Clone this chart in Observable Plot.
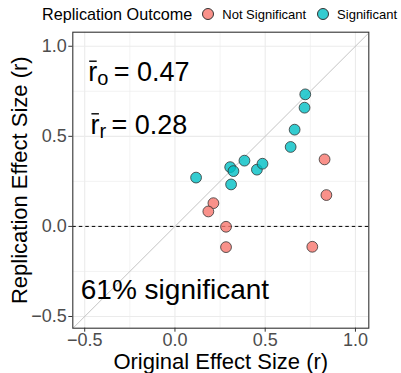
<!DOCTYPE html>
<html>
<head>
<meta charset="utf-8">
<script src="https://cdn.jsdelivr.net/npm/d3@7"></script>
<script src="https://cdn.jsdelivr.net/npm/@observablehq/plot@0.6"></script>
<style>
  html, body { margin: 0; padding: 0; background: #fff; }
  body { width: 401px; height: 373px; overflow: hidden; font-family: "Liberation Sans", Arial, sans-serif; }
  #legend { height: 28px; display: flex; align-items: center; white-space: nowrap; }
  .sw { display: inline-block; width: 10px; height: 10px; border-radius: 50%; border: 1px solid #333; box-sizing: content-box; }
</style>
</head>
<body>
<div id="legend"></div>
<div id="chart"></div>
<script>
// ---- data ----
const outcomes = ["Not Significant", "Significant"];
const outcomeColors = ["#F8766D", "#00BFC4"];

const sigOriginal    = [0.117, 0.306, 0.324, 0.385, 0.454, 0.485, 0.311, 0.641, 0.663, 0.718, 0.722];
const sigReplication = [0.271, 0.329, 0.307, 0.365, 0.315, 0.348, 0.233, 0.441, 0.537, 0.659, 0.733];
const nsOriginal     = [0.213, 0.185, 0.283, 0.283, 0.761, 0.829, 0.839];
const nsReplication  = [0.129, 0.083, -0.002, -0.115, -0.113, 0.372, 0.174];

const tickValues = [-0.5, 0, 0.5, 1.0];
const minorTicks = [-0.25, 0.25, 0.75];
const xDomain = [-0.566, 1.074];
const yDomain = [-0.565, 1.078];

const meanLabels = [
  {x: -0.2, y: 0.806, sub: "o", value: "0.47"},
  {x: -0.2, y: 0.514, sub: "r", value: "0.28"}
];
const sigLabel = [{x: 0, y: -0.402, text: "61% significant"}];

const xTitle = "Original Effect Size (r)";
const yTitle = "Replication Effect Size (r)";
const legendTitle = "Replication Outcome";

// ---- table ----
const points = [
  ...sigOriginal.map((o, i) => ({original: o, replication: sigReplication[i], outcome: "Significant"})),
  ...nsOriginal.map((o, i) => ({original: o, replication: nsReplication[i], outcome: "Not Significant"}))
];

// ---- legend ----
const legend = document.getElementById("legend");
const lt = document.createElement("span");
lt.textContent = legendTitle;
lt.style.cssText = "margin-left:42px;font-size:16.2px;color:#000;";
legend.appendChild(lt);
outcomes.forEach((o, i) => {
  const sw = document.createElement("span");
  sw.className = "sw";
  sw.style.marginLeft = i === 0 ? "10px" : "11px";
  sw.style.background = d3.color(outcomeColors[i]).copy({opacity: 0.8}).formatRgb();
  legend.appendChild(sw);
  const t = document.createElement("span");
  t.textContent = o;
  t.style.cssText = "margin-left:8px;font-size:13px;color:#000;";
  legend.appendChild(t);
});

// ---- plot ----
const fmt = d3.format(".1f");
const chart = Plot.plot({
  width: 401,
  height: 345,
  marginLeft: 72.3,
  marginRight: 32.7,
  marginTop: 3.7,
  marginBottom: 45.3,
  style: {fontFamily: "'Liberation Sans', Arial, sans-serif", background: "#fff", overflow: "visible"},
  x: {domain: xDomain},
  y: {domain: yDomain},
  color: {domain: outcomes, range: outcomeColors},
  marks: [
    Plot.ruleX(minorTicks, {stroke: "#ebebeb", strokeWidth: 0.6}),
    Plot.ruleY(minorTicks, {stroke: "#ebebeb", strokeWidth: 0.6}),
    Plot.ruleX(tickValues, {stroke: "#ebebeb", strokeWidth: 1.1}),
    Plot.ruleY(tickValues, {stroke: "#ebebeb", strokeWidth: 1.1}),
    Plot.link([{a: Math.min(xDomain[0], yDomain[0]), b: Math.max(xDomain[1], yDomain[1])}], {
      x1: "a", y1: "a", x2: "b", y2: "b", stroke: "#bdbdbd", strokeWidth: 0.9, clip: true
    }),
    Plot.ruleY([0], {stroke: "#000", strokeWidth: 1, strokeDasharray: "3.5,3"}),
    Plot.dot(points, {
      x: "original", y: "replication", fill: "outcome", fillOpacity: 0.8,
      stroke: "#333", strokeWidth: 0.8, r: 5.4
    }),
    Plot.text(meanLabels, {
      x: "x", y: "y", text: d => "r|" + d.sub + "|" + d.value,
      textAnchor: "middle", lineAnchor: "bottom", fontSize: 27, fill: "#000"
    }),
    Plot.text(sigLabel, {
      x: "x", y: "y", text: "text",
      textAnchor: "middle", lineAnchor: "bottom", fontSize: 28, fill: "#000"
    }),
    Plot.frame({stroke: "#333", strokeWidth: 1.1}),
    Plot.axisX({ticks: tickValues, tickFormat: fmt, tickSize: 4, tickPadding: 1.5, fontSize: 18,
      fill: "#4d4d4d", stroke: "#333", label: null}),
    Plot.axisY({ticks: tickValues, tickFormat: fmt, tickSize: 4, tickPadding: 2, fontSize: 18,
      fill: "#4d4d4d", stroke: "#333", label: null}),
    Plot.text([xTitle], {frameAnchor: "bottom", dy: 41, textAnchor: "middle", lineAnchor: "bottom",
      fontSize: 22, fill: "#000"}),
    Plot.text([yTitle], {frameAnchor: "left", dx: -46, rotate: -90, textAnchor: "middle", lineAnchor: "bottom",
      fontSize: 22, fill: "#000"})
  ]
});
document.getElementById("chart").appendChild(chart);

// rich text for mean labels: r-bar with subscript
const ns = "http://www.w3.org/2000/svg";
chart.querySelectorAll("text").forEach(t => {
  const s = t.textContent;
  if (/^r\|[a-z]\|/.test(s)) {
    const [base, sub, val] = s.split("|");
    t.textContent = "";
    const a = document.createElementNS(ns, "tspan"); a.textContent = base;
    const b = document.createElementNS(ns, "tspan"); b.textContent = sub;
    b.setAttribute("font-size", "20"); b.setAttribute("dy", "4");
    const c = document.createElementNS(ns, "tspan"); c.textContent = "\u2009= " + val;
    c.setAttribute("dy", "-4");
    t.append(a, b, c);
    // bar over the r
    const ext = t.getExtentOfChar(0);
    const start = t.getStartPositionOfChar(0);
    const line = document.createElementNS(ns, "line");
    line.setAttribute("x1", ext.x + 1);
    line.setAttribute("x2", ext.x + ext.width - 0.5);
    line.setAttribute("y1", start.y - 20);
    line.setAttribute("y2", start.y - 20);
    line.setAttribute("stroke", "#000");
    line.setAttribute("stroke-width", "1.4");
    if (t.getAttribute("transform")) line.setAttribute("transform", t.getAttribute("transform"));
    t.parentNode.appendChild(line);
  }
});
</script>
</body>
</html>
